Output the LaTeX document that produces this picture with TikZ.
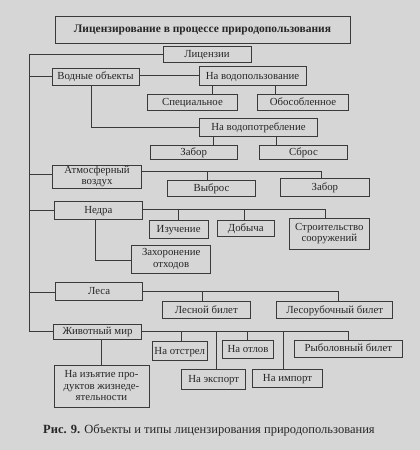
\documentclass[tikz,border=0pt]{standalone}
\usepackage{fontspec}
\setmainfont{Liberation Serif}
\definecolor{paper}{HTML}{D6D6D6}
\definecolor{ink}{HTML}{3A3A3A}
\definecolor{txt}{HTML}{262626}
\newcommand\bxstrut{\rule[-2.4pt]{0pt}{11.3pt}}
\tikzset{
  bx/.style={draw=ink, line width=0.75pt, inner xsep=1pt, inner ysep=0pt, align=center, text=txt,
    font=\fontsize{10.8}{11.3}\selectfont, execute at begin node=\bxstrut, execute at end node=\bxstrut},
  ln/.style={draw=ink, line width=0.75pt},
}
\newcommand\bx[6]{\node[bx, minimum width={#4-#2}, minimum height={#5-#3}] (#1) at ({(#2+#4)/2},{(#3+#5)/2}) {#6};}
\begin{document}
\begin{tikzpicture}[x=1pt,y=-1pt]
\fill[paper] (0,0) rectangle (420,450);
\useasboundingbox (0,0) rectangle (420,450);
% boxes
\bx{title}{55}{16}{350}{43}{\bfseries\fontsize{11.5}{12}\selectfont Лицензирование в процессе природопользования}
\bx{lic}{163}{46.5}{251}{62}{Лицензии}
\bx{vod}{52}{68}{139}{85}{Водные объекты}
\bx{vodp}{199}{66.7}{306}{85}{На водопользование}
\bx{spec}{147.7}{94}{237.3}{110}{Специальное}
\bx{obos}{257.7}{94}{348.3}{110}{Обособленное}
\bx{vodpt}{199.3}{118.3}{317.7}{136.7}{На водопотребление}
\bx{zabW}{150}{145}{237.3}{159}{Забор}
\bx{sbros}{259.3}{145}{347.7}{159}{Сброс}
\bx{atm}{52.3}{165}{141.7}{188.3}{Атмосферный\\воздух}
\bx{vybros}{167.3}{180.7}{255.7}{196.7}{Выброс}
\bx{zabA}{280.7}{178.3}{369}{196}{Забор}
\bx{nedra}{54}{201}{142.7}{219.3}{Недра}
\bx{izuch}{149.3}{220}{208}{238.3}{Изучение}
\bx{dob}{217.3}{220}{274.3}{236.7}{Добыча}
\bx{stroi}{289.3}{218.3}{369.3}{249}{Строительство\\сооружений}
\bx{zahor}{131.7}{245}{210.7}{273.3}{Захоронение\\отходов}
\bx{lesa}{55.7}{282.7}{142.7}{300.7}{Леса}
\bx{lesb}{162.5}{301}{250}{318.5}{Лесной билет}
\bx{lesrub}{276.7}{301}{392.7}{318.5}{Лесорубочный билет}
\bx{zhiv}{53.3}{324}{141.7}{339.3}{Животный мир}
\bx{otstr}{152.3}{341.7}{207.3}{360}{На отстрел}
\bx{otlov}{222.7}{340.7}{273.3}{358.3}{На отлов}
\bx{ryb}{294.3}{340}{402.3}{357.3}{Рыболовный билет}
\bx{eksp}{181.7}{369.3}{245.7}{389.3}{На экспорт}
\bx{imp}{252.3}{369.3}{322.7}{387.3}{На импорт}
\bx{izyat}{54}{365.7}{149}{407.7}{На изъятие про-\\дуктов жизнеде-\\ятельности}
\node[anchor=west, inner sep=0pt, text=txt, font=\fontsize{12.5}{13}\selectfont] (cap) at (43,430) {\textbf{Рис. 9.} Объекты и типы лицензирования природопользования};
% trunk
\coordinate (trunk) at (29,0);
\draw[ln] (lic.west) -- (lic.west -| trunk) -- (zhiv.west -| trunk) -- (zhiv.west);
\draw[ln] (vod.west -| trunk) -- (vod.west);
\draw[ln] (trunk |- 0,174) -- (atm.west |- 0,174);
\draw[ln] (trunk |- 0,210) -- (nedra.west |- 0,210);
\draw[ln] (trunk |- 0,292.5) -- (lesa.west |- 0,292.5);
% water
\draw[ln] (vod.east |- 0,75.5) -- (vodp.west |- 0,75.5);
\draw[ln] (212.3,0 |- vodp.south) -- (212.3,0 |- spec.north);
\draw[ln] (275.3,0 |- vodp.south) -- (275.3,0 |- obos.north);
\draw[ln] (91.7,0 |- vod.south) -- (91.7,127.7) -- (vodpt.west |- 0,127.7);
\draw[ln] (213.3,0 |- vodpt.south) -- (213.3,0 |- zabW.north);
\draw[ln] (276,0 |- vodpt.south) -- (276,0 |- sbros.north);
% air
\draw[ln] (atm.east |- 0,171.7) -- (321,171.7) -- (321,0 |- zabA.north);
\draw[ln] (207,171.7) -- (207,0 |- vybros.north);
% nedra
\draw[ln] (nedra.east |- 0,209) -- (325.3,209) -- (325.3,0 |- stroi.north);
\draw[ln] (178,209) -- (178,0 |- izuch.north);
\draw[ln] (244.7,209) -- (244.7,0 |- dob.north);
\draw[ln] (95.7,0 |- nedra.south) -- (95.7,260) -- (zahor.west |- 0,260);
% lesa
\draw[ln] (lesa.east |- 0,291.7) -- (338.3,291.7) -- (338.3,0 |- lesrub.north);
\draw[ln] (202.7,291.7) -- (202.7,0 |- lesb.north);
% zhivotny mir
\draw[ln] (zhiv.east |- 0,331.7) -- (348.3,331.7) -- (348.3,0 |- ryb.north);
\draw[ln] (181,331.7) -- (181,0 |- otstr.north);
\draw[ln] (216,331.7) -- (216,0 |- eksp.north);
\draw[ln] (247,331.7) -- (247,0 |- otlov.north);
\draw[ln] (283,331.7) -- (283,0 |- imp.north);
\draw[ln] (101,0 |- zhiv.south) -- (101,0 |- izyat.north);
\end{tikzpicture}
\end{document}
